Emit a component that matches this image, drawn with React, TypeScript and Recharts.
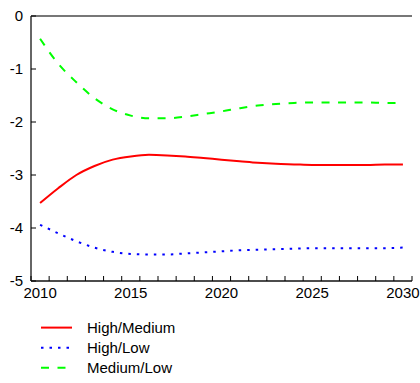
import React from 'react';
import { LineChart, Line, XAxis, YAxis, ReferenceLine } from 'recharts';

const years = [
  2010, 2011, 2012, 2013, 2014, 2015, 2016, 2017, 2018, 2019, 2020,
  2021, 2022, 2023, 2024, 2025, 2026, 2027, 2028, 2029, 2030,
];

const highMedium = [
  -3.53, -3.25, -3.0, -2.83, -2.71, -2.65, -2.62, -2.63, -2.65, -2.68, -2.71,
  -2.74, -2.77, -2.79, -2.8, -2.81, -2.81, -2.81, -2.81, -2.8, -2.8,
];

const highLow = [
  -3.94, -4.1, -4.25, -4.37, -4.45, -4.49, -4.5, -4.5, -4.48, -4.46, -4.44,
  -4.42, -4.41, -4.4, -4.39, -4.38, -4.38, -4.38, -4.38, -4.38, -4.37,
];

const mediumLow = [
  -0.43, -0.9, -1.25, -1.55, -1.76, -1.88, -1.93, -1.93, -1.9, -1.85, -1.8,
  -1.74, -1.69, -1.66, -1.64, -1.63, -1.63, -1.63, -1.63, -1.64, -1.64,
];

const xLabels = [2010, 2015, 2020, 2025, 2030];
const yTicks = [0, -1, -2, -3, -4, -5];

// minor tick marks sit between the years
const halfYears = years.map((y) => y - 0.5).concat([2030.5]);
const xTicks = [...halfYears, ...xLabels].sort((a, b) => a - b);

const series = [
  { key: 'hm', name: 'High/Medium', values: highMedium, color: '#ff0000', dash: undefined },
  { key: 'hl', name: 'High/Low', values: highLow, color: '#0000ff', dash: '2.5 6' },
  { key: 'ml', name: 'Medium/Low', values: mediumLow, color: '#00ff00', dash: '8 8.5' },
];

const data = years.map((year, i) => {
  const row: Record<string, number> = { year };
  series.forEach((s) => {
    row[s.key] = s.values[i];
  });
  return row;
});

const FONT = '"Liberation Sans", Arial, Helvetica, sans-serif';

const XTick = (props: any) => {
  const { x, y, payload } = props;
  const v = payload.value;
  if (Number.isInteger(v)) {
    return (
      <text x={x} y={y + 16.5} textAnchor="middle" fontFamily={FONT} fontSize={15} fill="#000">
        {v}
      </text>
    );
  }
  return <line x1={x} x2={x} y1={y} y2={y - 5} stroke="#000" strokeWidth={1} />;
};

const YTick = (props: any) => {
  const { x, y, payload } = props;
  return (
    <g>
      <line x1={x} x2={x + 5} y1={y} y2={y} stroke="#000" strokeWidth={1} />
      <text x={x - 8} y={y + 5.3} textAnchor="end" fontFamily={FONT} fontSize={15} fill="#000">
        {payload.value}
      </text>
    </g>
  );
};

const ChartLegend = () => (
  <svg width={420} height={83} style={{ position: 'absolute', left: 0, top: 300 }}>
    {series.map((s, i) => {
      const cy = 27.6 + i * 20.1;
      return (
        <g key={s.key}>
          <line
            x1={41}
            x2={72}
            y1={cy}
            y2={cy}
            stroke={s.color}
            strokeWidth={2}
            strokeDasharray={s.dash}
          />
          <text x={87} y={cy + 5.3} fontFamily={FONT} fontSize={15} fill="#000">
            {s.name}
          </text>
        </g>
      );
    })}
  </svg>
);

export default function App() {
  return (
    <div style={{ position: 'absolute', left: 0, top: 0, width: 420, height: 383, background: '#fff' }}>
      <LineChart width={420} height={300} data={data} margin={{ top: 16, right: 8, left: 0, bottom: 0 }}>
        <XAxis
          dataKey="year"
          type="number"
          domain={[2009.5, 2030.5]}
          ticks={xTicks}
          interval={0}
          tick={<XTick />}
          tickLine={false}
          tickSize={0}
          tickMargin={0}
          height={19}
          axisLine={{ stroke: '#111', strokeWidth: 1.5 }}
        />
        <YAxis
          type="number"
          domain={[-5, 0]}
          ticks={yTicks}
          interval={0}
          tick={<YTick />}
          tickLine={false}
          tickSize={0}
          tickMargin={0}
          width={31}
          axisLine={{ stroke: '#333', strokeWidth: 1.5 }}
        />
        <ReferenceLine y={0} stroke="#777" strokeWidth={1.8} />
        {series.map((s) => (
          <Line
            key={s.key}
            dataKey={s.key}
            name={s.name}
            type="monotone"
            stroke={s.color}
            strokeWidth={2}
            strokeDasharray={s.dash}
            dot={false}
            activeDot={false}
            isAnimationActive={false}
          />
        ))}
      </LineChart>
      <ChartLegend />
    </div>
  );
}
